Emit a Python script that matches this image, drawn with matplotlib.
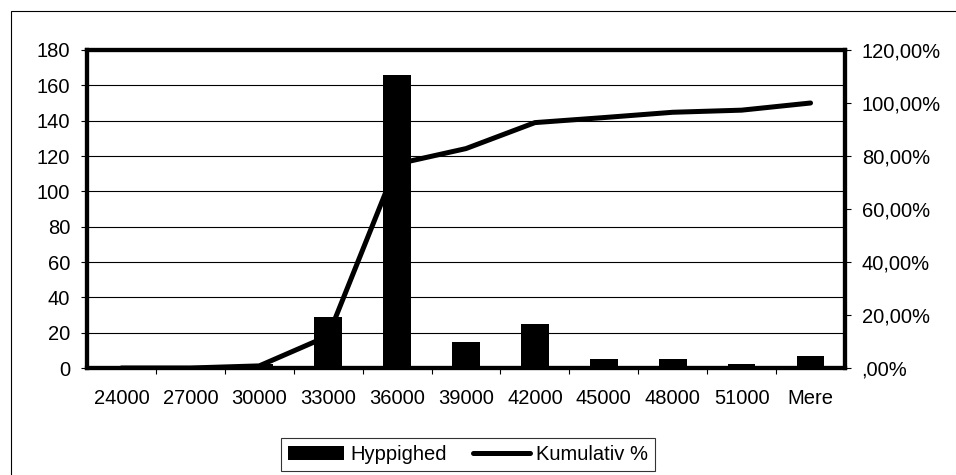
import numpy as np
import matplotlib.pyplot as plt
from matplotlib.patches import Rectangle
from matplotlib.ticker import FuncFormatter

plt.rcParams['font.family'] = ['Liberation Sans', 'DejaVu Sans']

# data
categories = ['24000', '27000', '30000', '33000', '36000', '39000',
              '42000', '45000', '48000', '51000', 'Mere']
frequency = [0, 0, 2, 29, 166, 15, 25, 5, 5, 2, 7]
cumulative = [0.0, 0.0, 0.008, 0.121, 0.770, 0.828, 0.926, 0.945, 0.965, 0.973, 1.0]

FS = 14.5

fig = plt.figure(figsize=(9.56, 4.75), dpi=100)
ax = fig.add_axes([87/956, 1 - 368/475, (845-87)/956, (368-50)/475])

x = np.arange(len(categories))
ax.bar(x, frequency, width=0.4, color='black', zorder=3, label='Hyppighed')
ax.set_xlim(-0.5, len(categories) - 0.5)
ax.set_ylim(0, 180)
ax.set_yticks(range(0, 181, 20))
ax.yaxis.grid(True, color='black', linewidth=0.8)
ax.set_axisbelow(True)

# x ticks sit between categories, labels centered on categories
ax.set_xticks(x[:-1] + 0.5)
ax.set_xticklabels([])
ax.set_xticks(x, minor=True)
ax.set_xticklabels(categories, minor=True)
ax.tick_params(axis='x', which='minor', length=0, labelsize=FS, pad=15)
ax.tick_params(axis='x', which='major', length=4, width=0.8, direction='out')
ax.tick_params(axis='y', length=4, width=0.8, labelsize=FS, pad=8)

ax2 = ax.twinx()
ax2.plot(x, cumulative, color='black', linewidth=3.6, zorder=4, label='Kumulativ %',
         solid_capstyle='round')
ax2.set_ylim(0, 1.2)
ax2.set_yticks(np.arange(0, 1.21, 0.2))


def pct(v, pos):
    s = f"{v*100:.2f}%".replace('.', ',')
    if s.startswith('0,'):
        s = s[1:]
    return s


ax2.yaxis.set_major_formatter(FuncFormatter(pct))
ax2.tick_params(axis='y', length=4, width=0.8, labelsize=FS, pad=8)

for a in (ax, ax2):
    for sp in a.spines.values():
        sp.set_linewidth(3)
        sp.set_color('black')

# legend
handles = ax.get_legend_handles_labels()[0] + ax2.get_legend_handles_labels()[0]
labels = ['Hyppighed', 'Kumulativ %']
leg = fig.legend(handles, labels, loc='upper left', bbox_to_anchor=(281/956, 1 - 438/475),
                 ncol=2, fontsize=FS, frameon=True, fancybox=False, edgecolor='black',
                 handlelength=2.8, handletextpad=0.3, columnspacing=1.3,
                 borderpad=0.35, borderaxespad=0)
leg.get_frame().set_linewidth(0.8)

# outer chart border (right and bottom edges fall outside the image)
fig.patches.append(Rectangle((11/956, -20/475), 960/956, (464 + 20)/475,
                             transform=fig.transFigure, fill=False,
                             edgecolor='black', linewidth=0.8))

fig.savefig('out.png', dpi=100)
